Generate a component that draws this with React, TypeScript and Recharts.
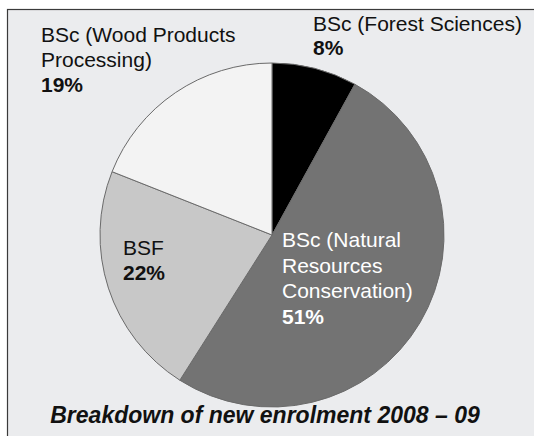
import React from "react";
import { PieChart, Pie, Cell } from "recharts";

const categories = [
  "BSc (Forest Sciences)",
  "BSc (Natural Resources Conservation)",
  "BSF",
  "BSc (Wood Products Processing)",
];
const shares = [8, 51, 22, 19];
const labelLines = [
  ["BSc (Forest Sciences)"],
  ["BSc (Natural", "Resources", "Conservation)"],
  ["BSF"],
  ["BSc (Wood Products", "Processing)"],
];
const title = "Breakdown of new enrolment 2008 – 09";

const colors = ["#000000", "#737373", "#c8c8c8", "#f3f3f3"];
const textColors = ["#111111", "#ffffff", "#111111", "#111111"];
// label anchor (x, first baseline) per slice, layout only
const labelPos = [
  { x: 313, y: 31, lh: 24 },
  { x: 282, y: 247, lh: 25.5 },
  { x: 123, y: 255, lh: 24.5 },
  { x: 41, y: 42, lh: 25 },
];

const data = categories.map((name, i) => ({ name, value: shares[i] }));

const FONT = "'Liberation Sans', Arial, Helvetica, sans-serif";

const renderLabel = (props: any) => {
  const i = props.index;
  const p = labelPos[i];
  const lines = labelLines[i];
  return (
    <text
      key={`lbl-${i}`}
      x={p.x}
      y={p.y}
      fill={textColors[i]}
      fontFamily={FONT}
      fontSize={21}
      textAnchor="start"
    >
      {lines.map((l, k) => (
        <tspan key={k} x={p.x} y={p.y + k * p.lh}>
          {l}
        </tspan>
      ))}
      <tspan x={p.x} y={p.y + lines.length * p.lh} fontWeight="bold">
        {`${shares[i]}%`}
      </tspan>
    </text>
  );
};

export default function App() {
  return (
    <div
      style={{
        position: "absolute",
        left: 0,
        top: 0,
        width: 534,
        height: 436,
        background: "#ffffff",
      }}
    >
      <svg
        width={534}
        height={436}
        style={{ position: "absolute", left: 0, top: 0 }}
      >
        <rect x={7.5} y={9.5} width={540} height={440} fill="#ebecee" stroke="#3a3a3a" strokeWidth={1.2} />
        <text
          x={265}
          y={423}
          textAnchor="middle"
          fontFamily={FONT}
          fontSize={23}
          fontWeight="bold"
          fontStyle="italic"
          fill="#111111"
        >
          {title}
        </text>
      </svg>
      <div style={{ position: "absolute", left: 0, top: 0 }}>
        <PieChart width={534} height={436}>
          <Pie
            data={data}
            dataKey="value"
            nameKey="name"
            cx={267}
            cy={230}
            outerRadius={172}
            startAngle={90}
            endAngle={-270}
            stroke="#6a6a6a"
            strokeWidth={1}
            label={renderLabel}
            labelLine={false}
            isAnimationActive={false}
          >
            {data.map((d, i) => (
              <Cell key={d.name} fill={colors[i]} />
            ))}
          </Pie>
        </PieChart>
      </div>
    </div>
  );
}
